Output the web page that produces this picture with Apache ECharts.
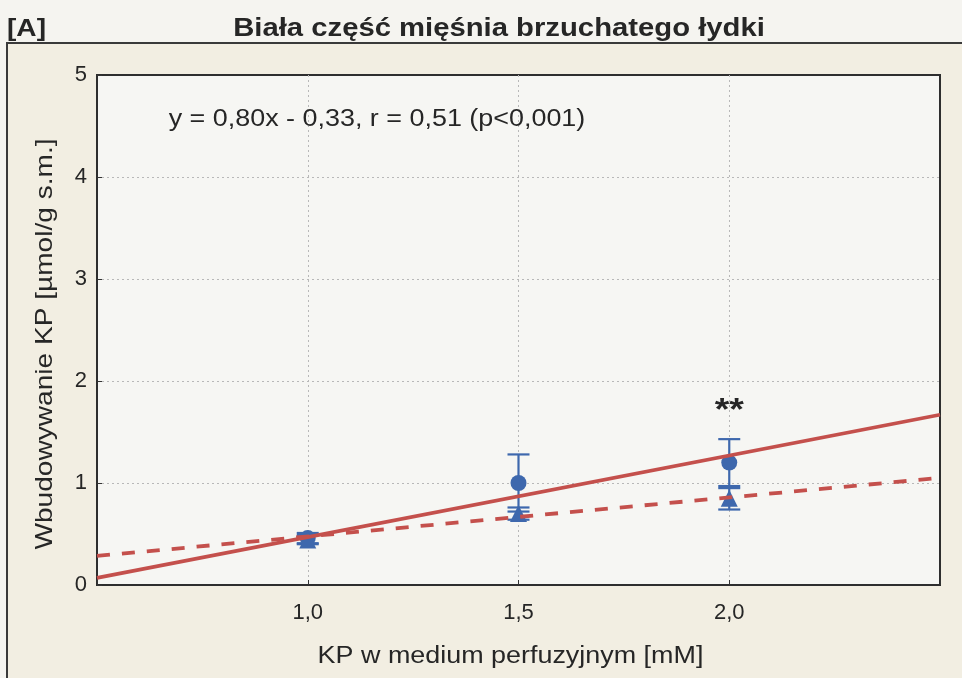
<!DOCTYPE html>
<html>
<head>
<meta charset="utf-8">
<script src="https://cdn.jsdelivr.net/npm/echarts@6/dist/echarts.min.js"></script>
<style>
  html, body { margin: 0; padding: 0; background: #f5f4f0; }
  #chart { width: 962px; height: 678px; }
</style>
</head>
<body>
<div id="chart"></div>
<script>
// Perfusate concentrations (mM) and incorporation values (µmol/g s.m.)
const concentrations = [1.0, 1.5, 2.0];
const circleMean = [0.46, 1.00, 1.20];
const circleLow  = [0.41, 0.72, 0.97];
const circleHigh = [0.51, 1.28, 1.43];
const triangleMean = [0.44, 0.70, 0.85];
const triangleLow  = [0.40, 0.64, 0.74];
const triangleHigh = [0.49, 0.76, 0.95];

// Regression for the circle series: y = 0,80x - 0,33
const fitSlope = 0.80;
const fitIntercept = -0.33;
// Trend for the triangle series (end points)
const dashedTrend = [[0.5, 0.285], [2.5, 1.05]];

const xTicks = [1.0, 1.5, 2.0];
const yTicks = [0, 1, 2, 3, 4, 5];
const xRange = [0.5, 2.5];

const titleText = 'Biała część mięśnia brzuchatego łydki';
const panelText = '[A]';
const equationText = 'y = 0,80x - 0,33, r = 0,51 (p<0,001)';
const starText = '**';
const starPos = [2.0, 1.74];
const xName = 'KP w medium perfuzyjnym [mM]';
const yName = 'Wbudowywanie KP [µmol/g s.m.]';

const FONT = '"Liberation Sans", Arial, sans-serif';
const INK = '#262626';
const BLUE = '#3e68ad';
const RED = '#c4504c';
const WIDE = 1.17;   // the lettering is set wide

const chart = echarts.init(document.getElementById('chart'), null, { renderer: 'canvas' });

function pairs(xs, ys) { return xs.map((x, i) => [x, ys[i]]); }
function errData(low, high) { return concentrations.map((x, i) => [x, low[i], high[i]]); }

function errorBarItem(params, api) {
  const x = api.value(0);
  const lo = api.coord([x, api.value(1)]);
  const hi = api.coord([x, api.value(2)]);
  const half = 11;
  const style = { stroke: BLUE, lineWidth: 2.2 };
  return {
    type: 'group',
    children: [
      { type: 'line', shape: { x1: lo[0], y1: lo[1], x2: hi[0], y2: hi[1] }, style },
      { type: 'line', shape: { x1: lo[0] - half, y1: lo[1], x2: lo[0] + half, y2: lo[1] }, style },
      { type: 'line', shape: { x1: hi[0] - half, y1: hi[1], x2: hi[0] + half, y2: hi[1] }, style }
    ]
  };
}

const fitLine = xRange.map(x => [x, fitSlope * x + fitIntercept]);

const gridBox = { left: 97, top: 75, right: 22, bottom: 93 };

chart.setOption({
  animation: false,
  backgroundColor: '#f5f4f0',
  textStyle: { fontFamily: FONT },
  grid: Object.assign({ show: true, backgroundColor: '#f6f6f3', borderColor: '#2e2e2e', borderWidth: 2 }, gridBox),
  xAxis: {
    type: 'value', min: xRange[0], max: xRange[1], interval: 0.5,
    axisLine: { show: false },
    axisTick: { show: true, inside: true, length: 5, lineStyle: { color: '#333' } },
    axisLabel: { fontSize: 22, color: INK, margin: 17, fontFamily: FONT,
      formatter: v => xTicks.some(t => Math.abs(t - v) < 1e-9) ? v.toFixed(1).replace('.', ',') : '' },
    splitLine: { show: true, showMinLine: false, showMaxLine: false,
      lineStyle: { color: '#b8b8b8', type: [2, 3], width: 1 } }
  },
  yAxis: {
    type: 'value', min: 0, max: 5, interval: 1,
    axisLine: { show: false },
    axisTick: { show: true, inside: true, length: 5, lineStyle: { color: '#333' } },
    axisLabel: { fontSize: 22, color: INK, margin: 10, fontFamily: FONT,
      formatter: v => yTicks.includes(v) ? String(v) : '' },
    splitLine: { show: true, showMinLine: false, showMaxLine: false,
      lineStyle: { color: '#b8b8b8', type: [2, 3], width: 1 } }
  },
  series: [
    { type: 'custom', name: 'err-circle', renderItem: errorBarItem, data: errData(circleLow, circleHigh),
      encode: { x: 0, y: [1, 2] }, z: 3, silent: true },
    { type: 'custom', name: 'err-triangle', renderItem: errorBarItem, data: errData(triangleLow, triangleHigh),
      encode: { x: 0, y: [1, 2] }, z: 3, silent: true },
    { type: 'scatter', name: 'circle', data: pairs(concentrations, circleMean), symbol: 'circle',
      symbolSize: 16, itemStyle: { color: BLUE, opacity: 1 }, z: 4 },
    { type: 'scatter', name: 'triangle', data: pairs(concentrations, triangleMean), symbol: 'triangle',
      symbolSize: 17, itemStyle: { color: BLUE, opacity: 1 }, z: 4 },
    { type: 'line', name: 'fit', data: fitLine, symbol: 'none', z: 5,
      lineStyle: { color: RED, width: 3.6 } },
    { type: 'line', name: 'trend', data: dashedTrend, symbol: 'none', z: 5,
      lineStyle: { color: RED, width: 3.8, type: [13, 12] } }
  ]
});

// Text placed by data coordinates / page layout, set slightly wide
function wideText(x, y, text, size, opts) {
  return Object.assign({
    type: 'text', x, y, scaleX: WIDE, z: 20,
    style: Object.assign({ text, fontFamily: FONT, fontSize: size, fill: INK,
      textAlign: 'left', textVerticalAlign: 'middle' }, (opts && opts.style) || {})
  }, (opts && opts.el) || {});
}

const eqPos = chart.convertToPixel({ gridIndex: 0 }, [0.67, 4.56]);
const starPx = chart.convertToPixel({ gridIndex: 0 }, starPos);
const plotMidX = gridBox.left + (962 - gridBox.left - gridBox.right) / 2;

chart.setOption({
  graphic: [
    { type: 'rect', z: -10, shape: { x: 7, y: 43, width: 1000, height: 700 },
      style: { fill: '#f2eee2', stroke: '#3a3a3a', lineWidth: 2 } },
    wideText(7, 29, panelText, 24, { style: { fontWeight: 'bold' } }),
    wideText(499, 29, titleText, 25, { style: { fontWeight: 'bold', textAlign: 'center' } }),
    wideText(eqPos[0], eqPos[1], equationText, 23),
    wideText(starPx[0], starPx[1] + 4, starText, 32, { style: { fontWeight: 'bold', textAlign: 'center' } }),
    wideText(plotMidX - 8, 657, xName, 23, { style: { textAlign: 'center' } }),
    wideText(45, 344, yName, 24, { style: { textAlign: 'center' }, el: { rotation: Math.PI / 2 } })
  ]
});
</script>
</body>
</html>
